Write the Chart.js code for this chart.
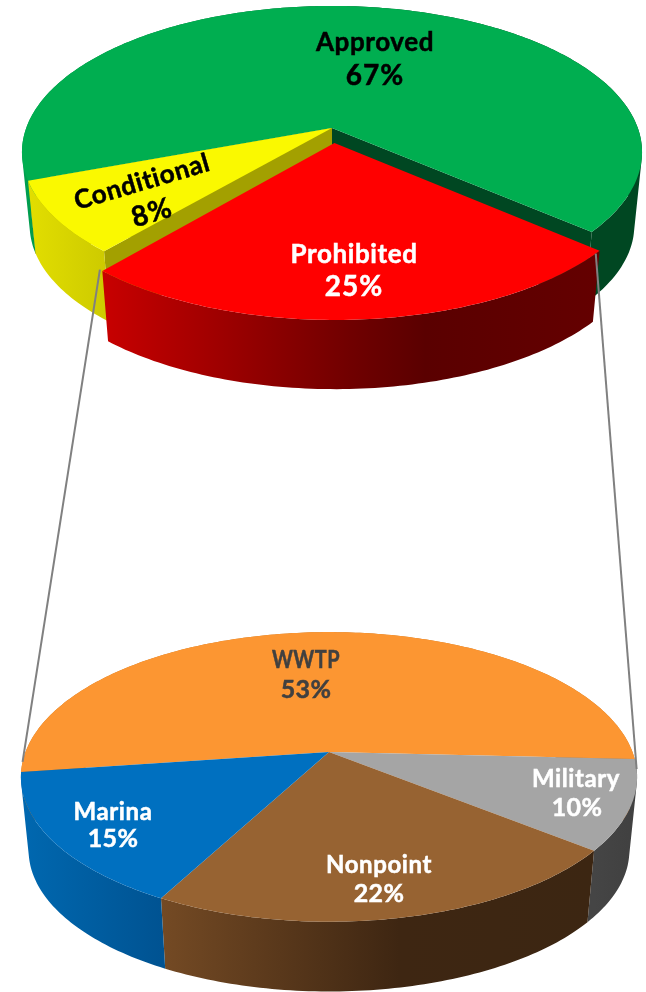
<!DOCTYPE html>
<html>
<head>
<meta charset="utf-8">
<style>
  html, body { margin: 0; padding: 0; background: #fff; }
  #wrap { position: relative; width: 646px; height: 992px; overflow: hidden; }
  canvas { position: absolute; left: 0; top: 0; }
</style>
<script src="https://cdn.jsdelivr.net/npm/chart.js@4"></script>
</head>
<body>
<div id="wrap">
  <canvas id="topPie" width="646" height="992"></canvas>
  <canvas id="bottomPie" width="646" height="992"></canvas>
</div>
<script>
// data
const topCategories = ["Approved", "Prohibited", "Conditional"];
const topValues = [67, 25, 8];
const bottomCategories = ["WWTP", "Military", "Nonpoint", "Marina"];
const bottomValues = [53, 10, 22, 15];

// colours
const topColors = ["#00ae50", "#ff0000", "#faf900"];
const topWalls = [
  [[0, "#00a050"], [0.06, "#009048"], [0.75, "#004722"], [1, "#004722"]],
  [[0, "#c80000"], [0.5, "#700000"], [0.65, "#5a0000"], [1, "#640000"]],
  [[0, "#e2de00"], [1, "#cecb00"]]
];
const topEdges = ["#004722", "#ff0000", "#a3a000"];
const topTextColors = ["#000", "#fff", "#000"];

const bottomColors = ["#fc9632", "#a5a5a5", "#976332", "#0070c0"];
const bottomWalls = [
  [[0, "#c87828"], [1, "#c87828"]],
  [[0, "#454545"], [1, "#404040"]],
  [[0, "#744a24"], [0.55, "#3e2612"], [1, "#3c2612"]],
  [[0, "#0068b0"], [1, "#005392"]]
];
const bottomTextColors = ["#404040", "#fff", "#fff", "#fff"];

// label centres: name x, name y, percent x, percent y, rotation, name width factor
const topLabelSpots = [
  [375, 43, 375, 76, 0, 1],
  [354, 255, 354, 287, 0, 1],
  [142, 182, 152, 213, -16.5, 1]
];
const bottomLabelSpots = [
  [306, 660, 306, 690, 0, 0.83],
  [576, 779, 577, 808, 0, 1],
  [379, 865, 379, 894, 0, 1],
  [113, 812, 113, 839, 0, 1]
];

// tilted disc: cx,cy = apex on screen, p = perspective, k = squash
const topShape = { cx: 332, cy: 128, R: 305.8, k: 0.465, p: 0.165, depth: 74, lower: 0.975, font: 26, pctFont: 28, pctGap: "1px" };
const bottomShape = { cx: 329, cy: 752, R: 303.5, k: 0.463, p: 0.172, depth: 74, lower: 0.975, font: 24, pctFont: 25, pctGap: "0.3px" };

function project(shape, u, v, low) {
  const s = low ? shape.lower : 1;
  const w = 1 - shape.p * v;
  return {
    x: shape.cx + shape.R * s * u / w,
    y: shape.cy + (low ? shape.depth : 0) + shape.R * shape.k * s * v / w
  };
}

// exploded slices move along their middle angle, by Chart.js' own offset option
function shiftOf(arc) {
  const mid = (arc.startAngle + arc.endAngle) / 2;
  const d = (arc.options.offset || 0) / arc.outerRadius;
  return { u: Math.cos(mid) * d, v: Math.sin(mid) * d };
}

function rimPoint(shape, arc, angle, low) {
  const sh = shiftOf(arc);
  return project(shape, sh.u + Math.cos(angle), sh.v + Math.sin(angle), low);
}

function apexPoint(shape, arc, low) {
  const sh = shiftOf(arc);
  return project(shape, sh.u, sh.v, low);
}

function anglesOf(arc) {
  const n = Math.ceil((arc.endAngle - arc.startAngle) / (Math.PI / 180));
  const list = [];
  for (let i = 0; i <= n; i++) list.push(arc.startAngle + (arc.endAngle - arc.startAngle) * i / n);
  return list;
}

function drawOuterWall(ctx, shape, arc, stops) {
  const angles = anglesOf(arc);
  const upper = angles.map((a) => rimPoint(shape, arc, a, false));
  const lower = angles.map((a) => rimPoint(shape, arc, a, true));
  const xs = upper.map((p) => p.x);
  const grad = ctx.createLinearGradient(Math.min(...xs), 0, Math.max(...xs), 0);
  stops.forEach((s) => grad.addColorStop(s[0], s[1]));
  ctx.fillStyle = grad;
  // one path of same-way-round strips, so no seams and no gaps at the silhouette
  ctx.beginPath();
  for (let i = 0; i < angles.length - 1; i++) {
    let quad = [upper[i], upper[i + 1], lower[i + 1], lower[i]];
    let area = 0;
    quad.forEach((p, j) => {
      const q = quad[(j + 1) % 4];
      area += p.x * q.y - q.x * p.y;
    });
    if (area < 0) quad = quad.reverse();
    quad.forEach((p, j) => (j === 0 ? ctx.moveTo(p.x, p.y) : ctx.lineTo(p.x, p.y)));
    ctx.closePath();
  }
  ctx.fill();
}

function drawEdgeWall(ctx, shape, arc, angle, color) {
  const a = apexPoint(shape, arc, false);
  const b = rimPoint(shape, arc, angle, false);
  const c = rimPoint(shape, arc, angle, true);
  const d = apexPoint(shape, arc, true);
  ctx.fillStyle = color;
  ctx.beginPath();
  ctx.moveTo(a.x, a.y);
  ctx.lineTo(b.x, b.y);
  ctx.lineTo(c.x, c.y);
  ctx.lineTo(d.x, d.y);
  ctx.closePath();
  ctx.fill();
}

function drawFace(ctx, shape, arc) {
  const apex = apexPoint(shape, arc, false);
  ctx.fillStyle = arc.options.backgroundColor;
  ctx.beginPath();
  ctx.moveTo(apex.x, apex.y);
  anglesOf(arc).forEach((a) => {
    const p = rimPoint(shape, arc, a, false);
    ctx.lineTo(p.x, p.y);
  });
  ctx.closePath();
  ctx.fill();
}

function tiltedPie(shape, walls, edges) {
  return {
    id: "tiltedPie",
    beforeDatasetsDraw(chart) {
      const ctx = chart.ctx;
      const arcs = chart.getDatasetMeta(0).data;
      const flat = arcs.filter((a) => !a.options.offset);
      const lifted = arcs.filter((a) => a.options.offset);
      if (edges) {
        flat.forEach((a) => {
          const i = arcs.indexOf(a);
          drawEdgeWall(ctx, shape, a, a.startAngle, edges[i]);
          drawEdgeWall(ctx, shape, a, a.endAngle, edges[i]);
        });
      }
      flat.forEach((a) => drawOuterWall(ctx, shape, a, walls[arcs.indexOf(a)]));
      flat.forEach((a) => drawFace(ctx, shape, a));
      lifted.forEach((a) => drawOuterWall(ctx, shape, a, walls[arcs.indexOf(a)]));
      lifted.forEach((a) => drawFace(ctx, shape, a));
      return false;
    }
  };
}

function pieLabels(shape, names, values, spots, colors) {
  return {
    id: "pieLabels",
    afterDraw(chart) {
      const ctx = chart.ctx;
      ctx.save();
      ctx.textAlign = "center";
      ctx.textBaseline = "middle";
      ctx.lineWidth = 0.5;
      names.forEach((name, i) => {
        const s = spots[i];
        ctx.fillStyle = colors[i];
        ctx.strokeStyle = colors[i];
        ctx.save();
        ctx.font = `700 ${shape.font}px Lato, sans-serif`;
        ctx.letterSpacing = "0.6px";
        ctx.translate(s[0], s[1]);
        ctx.rotate(s[4] * Math.PI / 180);
        ctx.scale(s[5], 1);
        ctx.fillText(name, 0, 0);
        ctx.strokeText(name, 0, 0);
        ctx.restore();
        ctx.save();
        ctx.font = `700 ${shape.pctFont}px Lato, sans-serif`;
        ctx.letterSpacing = shape.pctGap;
        ctx.translate(s[2], s[3]);
        ctx.rotate(s[4] * Math.PI / 180);
        ctx.fillText(values[i] + "%", 0, 0);
        ctx.strokeText(values[i] + "%", 0, 0);
        ctx.restore();
      });
      ctx.restore();
    }
  };
}

function makePie(id, names, values, colors, rotation, offsets, plugins) {
  return new Chart(document.getElementById(id), {
    type: "pie",
    data: {
      labels: names,
      datasets: [{ data: values, backgroundColor: colors, borderWidth: 0, offset: offsets }]
    },
    options: {
      responsive: false,
      animation: false,
      rotation: rotation,
      events: [],
      plugins: { legend: { display: false }, tooltip: { enabled: false } }
    },
    plugins: plugins
  });
}

const topChart = makePie("topPie", topCategories, topValues, topColors, 249.5, [0, 32, 0], [
  tiltedPie(topShape, topWalls, topEdges),
  pieLabels(topShape, topCategories, topValues, topLabelSpots, topTextColors)
]);

// grey lines from the lifted slice down to the second pie
const connectors = {
  id: "connectors",
  afterDraw(chart) {
    const ctx = chart.ctx;
    const red = topChart.getDatasetMeta(0).data[1];
    const first = chart.getDatasetMeta(0).data[0];
    const ends = [
      [red.endAngle + 0.01, first.startAngle + 0.07],
      [red.startAngle + 0.02, first.endAngle + 0.07]
    ];
    ctx.save();
    ctx.strokeStyle = "#808080";
    ctx.lineWidth = 2;
    ends.forEach((e) => {
      const a = rimPoint(topShape, red, e[0], false);
      const b = rimPoint(bottomShape, first, e[1], false);
      ctx.beginPath();
      ctx.moveTo(a.x, a.y);
      ctx.lineTo(b.x, b.y);
      ctx.stroke();
    });
    ctx.restore();
  }
};

makePie("bottomPie", bottomCategories, bottomValues, bottomColors, 262, [0, 0, 0, 0], [
  tiltedPie(bottomShape, bottomWalls, null),
  connectors,
  pieLabels(bottomShape, bottomCategories, bottomValues, bottomLabelSpots, bottomTextColors)
]);
</script>
</body>
</html>
